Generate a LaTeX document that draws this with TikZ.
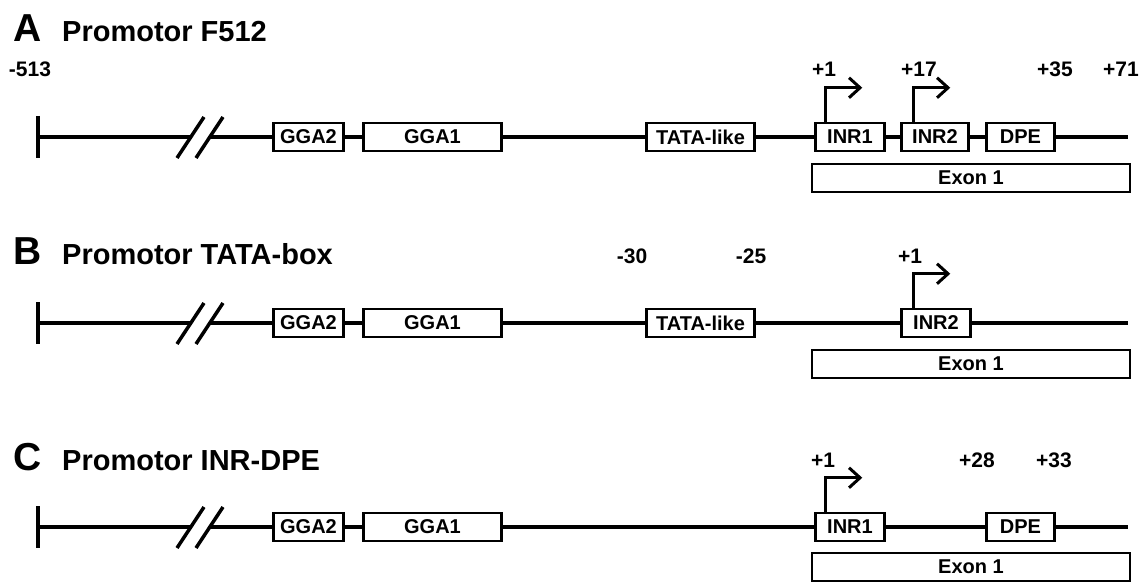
\documentclass[tikz,border=0pt]{standalone}
\usepackage{fontspec}
\setmainfont{Liberation Sans}
\usetikzlibrary{arrows.meta}
\tikzset{
  dna/.style={line width=3.5pt},
  endtick/.style={line width=4pt},
  elem/.style={draw,line width=2.5pt,fill=white,inner sep=0pt,minimum height=28pt,
               font=\fontsize{20}{22}\selectfont\bfseries},
  exon/.style={elem,minimum width=318pt},
  numlbl/.style={font=\fontsize{21}{24}\selectfont\bfseries,anchor=base,inner sep=0pt},
  panel/.style={font=\fontsize{39}{42}\selectfont\bfseries,anchor=base west,inner sep=0pt},
  ptitle/.style={font=\fontsize{29}{32}\selectfont\bfseries,anchor=base west,inner sep=0pt},
  tss/.style={-{Straight Barb[length=11pt,width=20pt]},line width=3pt},
}
% the two slashes where the line is cut
\newcommand{\brk}[1]{\draw[dna] ([xshift=-14pt,yshift=-21pt]#1) -- ([xshift=13pt,yshift=20pt]#1);}

\begin{document}
\begin{tikzpicture}[x=1pt,y=-1pt]
  \useasboundingbox (0,0) rectangle (1146,583);

  % A: promotor F512
  \node[panel] (lblA) at (13,42) {A};
  \node[ptitle] (titA) at (62,42) {Promotor F512};
  \node[numlbl] (nA1) at (30,77) {-513};
  \node[numlbl] (nA2) at (824,77) {+1};
  \node[numlbl] (nA3) at (919,77) {+17};
  \node[numlbl] (nA4) at (1055,77) {+35};
  \node[numlbl] (nA5) at (1121,77) {+71};
  \coordinate (sA) at (38,137);
  \coordinate (bA1) at (191,137);
  \coordinate (bA2) at (210,137);
  \coordinate (eA) at (1128,137);
  \node[elem,minimum width=70pt] (gga2A) at (308.5,137) {GGA2};
  \node[elem,minimum width=138pt] (gga1A) at (432.5,137) {GGA1};
  \node[elem,minimum width=108pt] (tataA) at (700.5,137) {TATA-like};
  \node[elem,minimum width=69pt] (inr1A) at (850,137) {INR1};
  \node[elem,minimum width=67pt] (inr2A) at (935,137) {INR2};
  \node[elem,minimum width=68pt] (dpeA) at (1020.5,137) {DPE};
  \node[exon] (exA) at (971,178) {Exon 1};
  \draw[endtick] ([yshift=21pt]sA) -- ([yshift=-21pt]sA);
  \draw[dna] (sA) -- (bA1) (bA2) -- (gga2A) -- (gga1A) -- (tataA) -- (inr1A) -- (inr2A) -- (dpeA) -- (eA);
  \brk{bA1} \brk{bA2}
  \draw[tss] ([xshift=11pt]inr1A.north west) -- ++(0,-34) -- ++(37,0);
  \draw[tss] ([xshift=13pt]inr2A.north west) -- ++(0,-34) -- ++(37,0);

  % B: promotor TATA-box
  \node[panel] (lblB) at (13,264) {B};
  \node[ptitle] (titB) at (62,264) {Promotor TATA-box};
  \node[numlbl] (nB1) at (632,263) {-30};
  \node[numlbl] (nB2) at (751,263) {-25};
  \node[numlbl] (nB3) at (910,263) {+1};
  \coordinate (sB) at (38,323);
  \coordinate (bB1) at (191,323);
  \coordinate (bB2) at (210,323);
  \coordinate (eB) at (1128,323);
  \node[elem,minimum width=70pt] (gga2B) at (308.5,323) {GGA2};
  \node[elem,minimum width=138pt] (gga1B) at (432.5,323) {GGA1};
  \node[elem,minimum width=108pt] (tataB) at (700.5,323) {TATA-like};
  \node[elem,minimum width=69pt] (inr2B) at (936,323) {INR2};
  \node[exon] (exB) at (971,364) {Exon 1};
  \draw[endtick] ([yshift=21pt]sB) -- ([yshift=-21pt]sB);
  \draw[dna] (sB) -- (bB1) (bB2) -- (gga2B) -- (gga1B) -- (tataB) -- (inr2B) -- (eB);
  \brk{bB1} \brk{bB2}
  \draw[tss] ([xshift=13pt]inr2B.north west) -- ++(0,-34) -- ++(37,0);

  % C: promotor INR-DPE
  \node[panel] (lblC) at (13,470) {C};
  \node[ptitle] (titC) at (62,470) {Promotor INR-DPE};
  \node[numlbl] (nC1) at (823,467) {+1};
  \node[numlbl] (nC2) at (977,467) {+28};
  \node[numlbl] (nC3) at (1054,467) {+33};
  \coordinate (sC) at (38,527);
  \coordinate (bC1) at (191,527);
  \coordinate (bC2) at (210,527);
  \coordinate (eC) at (1128,527);
  \node[elem,minimum width=70pt] (gga2C) at (308.5,527) {GGA2};
  \node[elem,minimum width=138pt] (gga1C) at (432.5,527) {GGA1};
  \node[elem,minimum width=69pt] (inr1C) at (850,527) {INR1};
  \node[elem,minimum width=68pt] (dpeC) at (1020.5,527) {DPE};
  \node[exon] (exC) at (971,567) {Exon 1};
  \draw[endtick] ([yshift=21pt]sC) -- ([yshift=-21pt]sC);
  \draw[dna] (sC) -- (bC1) (bC2) -- (gga2C) -- (gga1C) -- (inr1C) -- (dpeC) -- (eC);
  \brk{bC1} \brk{bC2}
  \draw[tss] ([xshift=11pt]inr1C.north west) -- ++(0,-34) -- ++(37,0);
\end{tikzpicture}
\end{document}
